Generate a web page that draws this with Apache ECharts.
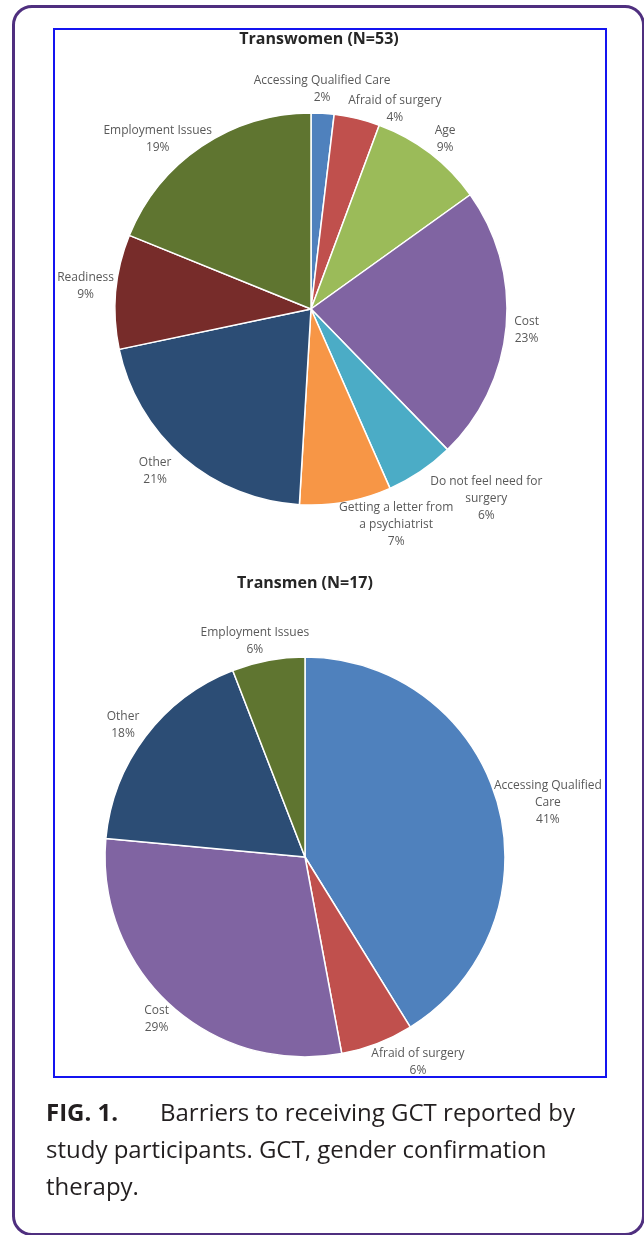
<!DOCTYPE html>
<html>
<head>
<meta charset="utf-8">
<title>Barriers to receiving GCT</title>
<script src="https://cdn.jsdelivr.net/npm/echarts@6/dist/echarts.min.js"></script>
<style>
  html, body { margin: 0; padding: 0; background: #fff; }
  .page { position: relative; width: 644px; height: 1235px; overflow: hidden; }
  /* outer journal panel frame */
  .frame { position: absolute; left: 12px; top: 5px; width: 633px; height: 1231px; box-sizing: border-box;
           border: 3px solid #4f2f7f; border-radius: 20px; }
  /* blue box round the two pies */
  .box { position: absolute; left: 53px; top: 28px; width: 554px; height: 1050px; box-sizing: border-box;
         border: 2px solid #1414f0; }
  #chart { position: absolute; left: 0; top: 0; width: 644px; height: 1235px; }
  .caption { position: absolute; left: 46px; top: 1093px; width: 590px; font-family: 'Open Sans', sans-serif;
             font-size: 24px; line-height: 37px; color: #231f20; white-space: nowrap; }
  .caption b { display: inline-block; width: 114px; font-weight: 700; }
</style>
</head>
<body>
<div class="page">
  <div class="frame"></div>
  <div class="box"></div>
  <div id="chart"></div>
  <div class="caption"><b>FIG. 1.</b>Barriers to receiving GCT reported by<br>study participants. GCT, gender confirmation<br>therapy.</div>
</div>
<script>
  // Transwomen (N=53), counts per barrier
  const womenCategories = ['Accessing Qualified Care', 'Afraid of surgery', 'Age', 'Cost',
    'Do not feel need for\nsurgery', 'Getting a letter from\na psychiatrist', 'Other', 'Readiness', 'Employment Issues'];
  const womenCounts = [1, 2, 5, 12, 3, 4, 11, 5, 10];
  const womenColors = ['#4f81bd', '#c0504d', '#9bbb59', '#8064a2', '#4bacc6', '#f79646', '#2c4d75', '#772c2a', '#5f7530'];

  // Transmen (N=17)
  const menCategories = ['Accessing Qualified\nCare', 'Afraid of surgery', 'Cost', 'Other', 'Employment Issues'];
  const menCounts = [7, 1, 5, 3, 1];
  const menColors = ['#4f81bd', '#c0504d', '#8064a2', '#2c4d75', '#5f7530'];

  // small moves of the labels, like excel's best fit does
  const womenLabelShift = [[-5, 1], [25, 15], [4, 6], [0, 1], [30, -1], [39, -10], [-12, -5], [6, -3], [-9, 13]];
  const menLabelShift = [[-9, 9], [21, -5], [0, -4], [-3, 4], [-2, 5]];

  const chart = echarts.init(document.getElementById('chart'));

  // label sits just outside the slice, pushed out along its mid angle
  function outsideEnd(counts, cx, cy, r, shifts) {
    const total = counts.reduce((a, b) => a + b, 0);
    return function (params) {
      const i = params.dataIndex;
      let before = 0;
      for (let k = 0; k < i; k++) before += counts[k];
      const ang = (before + counts[i] / 2) / total * Math.PI * 2;
      const s = Math.sin(ang), c = Math.cos(ang);
      const w = params.labelRect.width, h = params.labelRect.height;
      const d = r + 8;
      return {
        x: cx + d * s + s * w / 2 + shifts[i][0],
        y: cy - d * c - c * h / 2 + shifts[i][1],
        align: 'center',
        verticalAlign: 'middle'
      };
    };
  }

  function pieSeries(names, counts, colors, cx, cy, r, shifts) {
    return {
      type: 'pie',
      center: [cx, cy],
      radius: r,
      startAngle: 90,
      clockwise: true,
      percentPrecision: 0,
      avoidLabelOverlap: false,
      animation: false,
      itemStyle: { borderColor: '#fff', borderWidth: 1.5 },
      label: {
        show: true,
        position: 'outside',
        formatter: '{b}\n{d}%',
        fontFamily: 'Open Sans',
        fontSize: 12,
        lineHeight: 17,
        color: '#595959'
      },
      labelLine: { show: false },
      labelLayout: outsideEnd(counts, cx, cy, r, shifts),
      emphasis: { disabled: true },
      data: names.map((n, i) => ({ name: n, value: counts[i], itemStyle: { color: colors[i] } }))
    };
  }

  chart.setOption({
    backgroundColor: 'transparent',
    title: [
      {
        text: 'Transwomen (N=53)', left: 319, top: 31, textAlign: 'center', padding: 0,
        textStyle: { fontFamily: 'Open Sans', fontSize: 16, fontWeight: 'bold', color: '#262626' }
      },
      {
        text: 'Transmen (N=17)', left: 305, top: 575, textAlign: 'center', padding: 0,
        textStyle: { fontFamily: 'Open Sans', fontSize: 16, fontWeight: 'bold', color: '#262626' }
      }
    ],
    series: [
      pieSeries(womenCategories, womenCounts, womenColors, 311, 309, 196, womenLabelShift),
      pieSeries(menCategories, menCounts, menColors, 305, 857, 200, menLabelShift)
    ]
  });
</script>
</body>
</html>
